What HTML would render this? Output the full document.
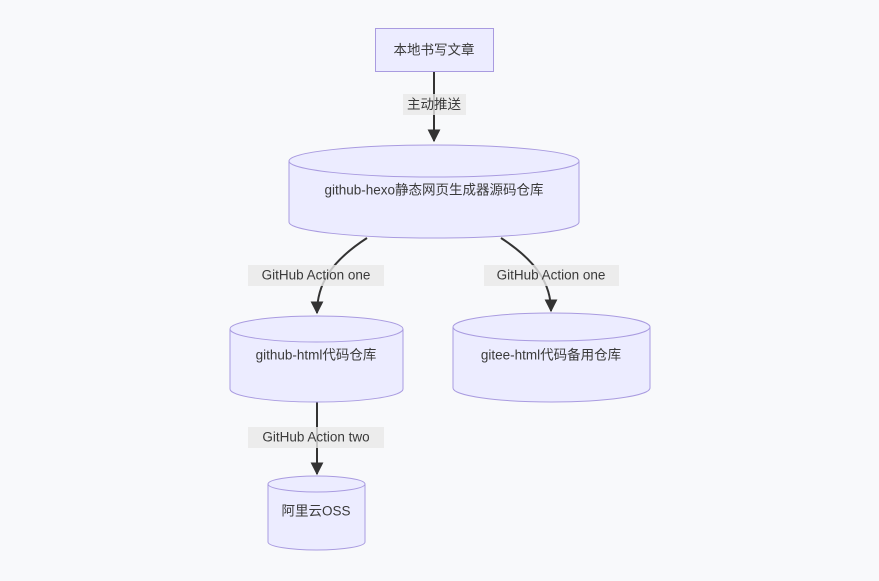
<!DOCTYPE html>
<html><head><meta charset="utf-8"><style>
html,body{margin:0;padding:0;background:#f8f9fb;}
svg{display:block;}
text{font-family:"Liberation Sans","Noto Sans CJK SC",sans-serif;font-size:13.5px;fill:#3a3a3a;text-anchor:middle;dominant-baseline:central;}
.n{fill:#ececff;stroke:#a99be0;stroke-width:1;}
.e{fill:none;stroke:#333;stroke-width:2;}
.lb{fill:#e8e8e8;opacity:0.8;}
</style></head><body>
<svg width="879" height="581" viewBox="0 0 879 581">
<defs><marker id="a" viewBox="0 0 10 10" refX="9" refY="5" markerWidth="6.5" markerHeight="6.5" orient="auto"><path d="M0,0 L10,5 L0,10 z" fill="#333"/></marker></defs>
<path class="e" d="M434,71 L434,141" marker-end="url(#a)"/>
<path class="e" d="M367,238 C330,262 317,285 317,313" marker-end="url(#a)"/>
<path class="e" d="M501,238 C538,262 551,285 551,311" marker-end="url(#a)"/>
<path class="e" d="M317,402 L317,474" marker-end="url(#a)"/>
<rect class="lb" x="403" y="94" width="63" height="21"/><text x="434" y="104.5">主动推送</text>
<rect class="lb" x="248" y="265" width="136" height="21"/><text x="316" y="275">GitHub Action one</text>
<rect class="lb" x="484" y="265" width="135" height="21"/><text x="551" y="275">GitHub Action one</text>
<rect class="lb" x="248" y="427" width="136" height="21"/><text x="316" y="437">GitHub Action two</text>
<rect class="n" x="375.5" y="28.5" width="118" height="43"/><text x="434" y="50">本地书写文章</text>
<path class="n" d="M289,161 A145,16 0 0 1 579,161 L579,222 A145,16 0 0 1 289,222 Z"/>
<path class="n" d="M289,161 A145,16 0 0 0 579,161"/>
<text x="434" y="190">github-hexo静态网页生成器源码仓库</text>
<path class="n" d="M230,329 A86.5,13 0 0 1 403,329 L403,389 A86.5,13 0 0 1 230,389 Z"/>
<path class="n" d="M230,329 A86.5,13 0 0 0 403,329"/>
<text x="316" y="355">github-html代码仓库</text>
<path class="n" d="M453,327 A98.5,14 0 0 1 650,327 L650,388 A98.5,14 0 0 1 453,388 Z"/>
<path class="n" d="M453,327 A98.5,14 0 0 0 650,327"/>
<text x="551" y="355">gitee-html代码备用仓库</text>
<path class="n" d="M268,484 A48.5,8 0 0 1 365,484 L365,542 A48.5,8 0 0 1 268,542 Z"/>
<path class="n" d="M268,484 A48.5,8 0 0 0 365,484"/>
<text x="316" y="511">阿里云OSS</text>
</svg>
</body></html>
